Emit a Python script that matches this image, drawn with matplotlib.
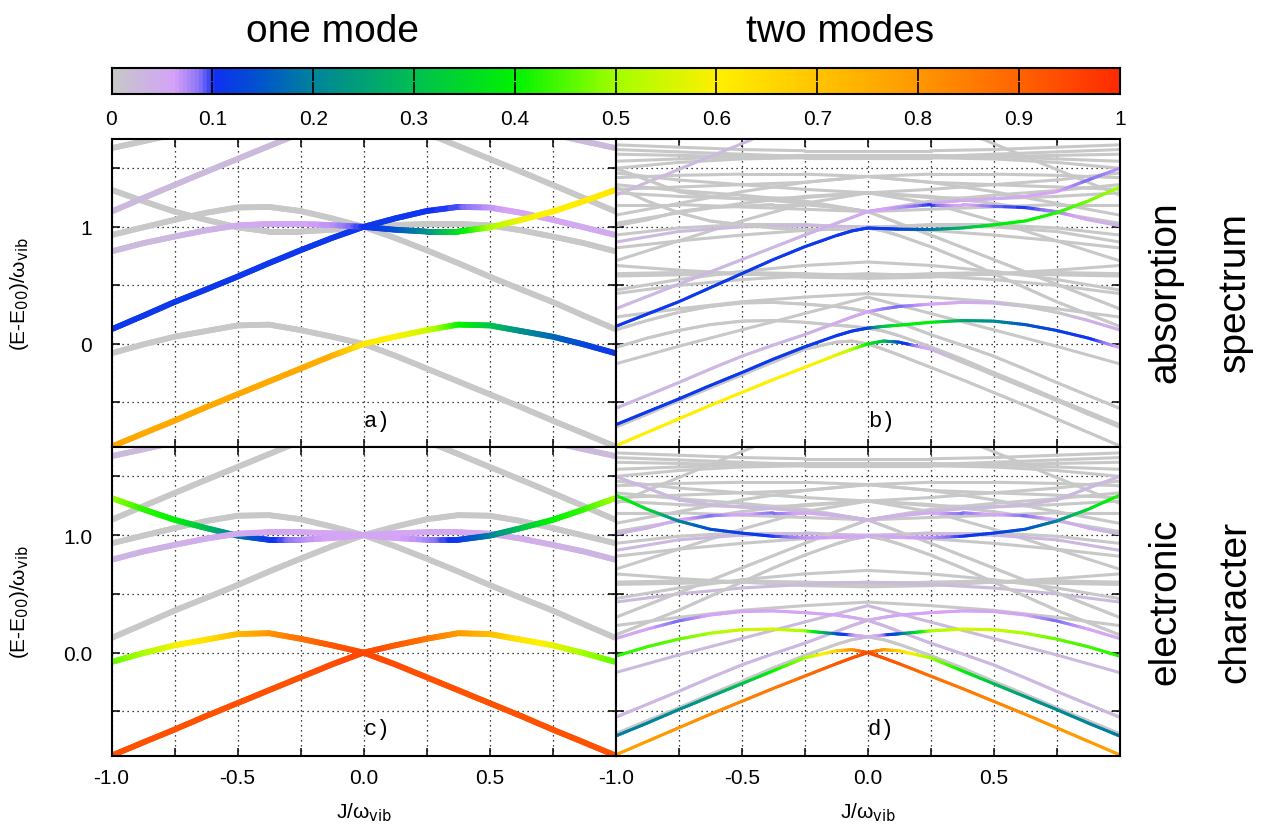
import numpy as np
import matplotlib
matplotlib.use("Agg")
import matplotlib.pyplot as plt
from matplotlib.collections import LineCollection
from matplotlib.colors import LinearSegmentedColormap

# ---------------- colour scale ----------------
CB_NODES = [0.0, 0.03, 0.06, 0.085, 0.1, 0.15, 0.2, 0.3, 0.4, 0.5, 0.6, 0.7, 0.8, 0.9, 1.0]
CB_COLORS = ['#c8c8c8', '#ccb6e2', '#d6a2f8', '#8a74f6', '#1030f4', '#0058c8', '#00859a',
             '#00c050', '#00f400', '#a4ff00', '#fff000', '#ffc400', '#ff9800', '#ff6400', '#ff2a00']
CB_TICKS = [0, 0.1, 0.2, 0.3, 0.4, 0.5, 0.6, 0.7, 0.8, 0.9, 1.0]
CB_LABELS = ['0', '0.1', '0.2', '0.3', '0.4', '0.5', '0.6', '0.7', '0.8', '0.9', '1']

# ---------------- one mode (panels a, c) ----------------
J1 = [-1.0, -0.875, -0.75, -0.625, -0.5, -0.375, -0.25, -0.125, 0.0,
      0.125, 0.25, 0.375, 0.5, 0.625, 0.75, 0.875, 1.0]
E1_A = [-0.877, -0.765, -0.655, -0.54, -0.43, -0.32, -0.21, -0.10, 0.0,
        0.062, 0.118, 0.165, 0.158, 0.11, 0.062, -0.005, -0.08]
E1_Am = [-0.08, -0.005, 0.062, 0.11, 0.158, 0.165, 0.118, 0.062, 0.0,
         -0.10, -0.21, -0.32, -0.43, -0.54, -0.655, -0.765, -0.877]
E1_B = [0.125, 0.24, 0.358, 0.465, 0.575, 0.69, 0.80, 0.905, 1.0,
        1.072, 1.135, 1.17, 1.165, 1.12, 1.06, 0.995, 0.93]
E1_Bm = [0.93, 0.995, 1.06, 1.12, 1.165, 1.17, 1.135, 1.072, 1.0,
         0.905, 0.80, 0.69, 0.575, 0.465, 0.358, 0.24, 0.125]
E1_C = [0.79, 0.86, 0.917, 0.97, 1.012, 1.025, 1.025, 1.015, 1.0,
        0.975, 0.96, 0.96, 0.995, 1.06, 1.13, 1.22, 1.316]
E1_Cm = [1.316, 1.22, 1.13, 1.06, 0.995, 0.96, 0.96, 0.975, 1.0,
         1.015, 1.025, 1.025, 1.012, 0.97, 0.917, 0.86, 0.79]
E1_D = [1.13, 1.245, 1.358, 1.47, 1.58, 1.69, 1.80, 1.91, 2.0,
        np.nan, np.nan, np.nan, np.nan, np.nan, np.nan, np.nan, np.nan]
E1_Dm = [np.nan, np.nan, np.nan, np.nan, np.nan, np.nan, np.nan, np.nan, 2.0,
         1.91, 1.80, 1.69, 1.58, 1.47, 1.358, 1.245, 1.13]
E1_E = [1.672, 1.73, 1.79, 1.85, np.nan, np.nan, np.nan, np.nan, np.nan,
        np.nan, np.nan, np.nan, np.nan, np.nan, np.nan, np.nan, np.nan]
E1_Em = [np.nan, np.nan, np.nan, np.nan, np.nan, np.nan, np.nan, np.nan, np.nan,
         np.nan, np.nan, np.nan, np.nan, 1.85, 1.79, 1.73, 1.672]

# colour values, panel a (absorption)
A_A = [0.76, 0.76, 0.76, 0.76, 0.76, 0.76, 0.76, 0.75, 0.62,
       0.60, 0.55, 0.41, 0.32, 0.22, 0.17, 0.13, 0.11]
A_Am = [0.0] * 17
A_B = [0.11, 0.11, 0.11, 0.11, 0.11, 0.11, 0.11, 0.11, 0.11,
       0.11, 0.105, 0.095, 0.07, 0.055, 0.052, 0.05, 0.05]
A_Bm = [0.0] * 17
A_C = [0.025, 0.025, 0.03, 0.035, 0.045, 0.055, 0.058, 0.07, 0.10,
       0.14, 0.21, 0.36, 0.50, 0.58, 0.60, 0.61, 0.62]
A_Cm = [0.0] * 17
A_D = [0.025] * 17
A_Dm = [0.0] * 17
A_E = [0.0] * 17
A_Em = [0.025] * 17

# colour values, panel c (electronic character)
C_A = [0.93, 0.93, 0.93, 0.93, 0.93, 0.93, 0.93, 0.94, 0.95,
       0.92, 0.87, 0.80, 0.72, 0.63, 0.58, 0.50, 0.46]
C_Am = [0.46, 0.50, 0.58, 0.63, 0.72, 0.80, 0.87, 0.92, 0.95,
        0.94, 0.93, 0.93, 0.93, 0.93, 0.93, 0.93, 0.93]
C_B = [0.0] * 17
C_Bm = [0.0] * 17
C_C = [0.035, 0.035, 0.04, 0.045, 0.05, 0.052, 0.054, 0.055, 0.055,
       0.058, 0.075, 0.11, 0.19, 0.30, 0.40, 0.43, 0.50]
C_Cm = [0.50, 0.43, 0.40, 0.30, 0.19, 0.11, 0.075, 0.058, 0.055,
        0.055, 0.054, 0.052, 0.05, 0.045, 0.04, 0.035, 0.035]
C_D = [0.0] * 17
C_Dm = [0.0] * 17
C_E = [0.025] * 17
C_Em = [0.025] * 17

# ---------------- two modes (panels b, d) ----------------
# background levels given as left halves (J <= 0); the level set is symmetric in J.
# colour of each half: [b left, b right, d left, d right]
JH = [-1.0, -0.75, -0.5, -0.25, 0.0]
H2 = [
    [-0.17, -0.02, 0.12, 0.26, 0.40],
    [0.23, 0.30, 0.36, 0.40, 0.43],
    [0.43, 0.50, 0.55, 0.58, 0.60],
    [0.46, 0.55, 0.62, 0.67, 0.70],
    [0.58, 0.59, 0.60, 0.60, 0.60],
    [0.60, 0.61, 0.61, 0.60, 0.58],
    [0.67, 0.63, 0.60, 0.57, 0.56],
    [0.71, 0.88, 1.05, 1.20, 1.29],
    [0.82, 0.88, 0.93, 0.97, 0.99],
    [0.87, 0.96, 1.0, 1.01, 1.0],
    [0.93, 0.99, 1.02, 1.02, 0.99],
    [1.03, 1.12, 1.20, 1.26, 1.29],
    [1.10, 1.20, 1.30, 1.38, 1.43],
    [1.19, 1.19, 1.17, 1.15, 1.13],
    [1.27, 1.49, 1.71, 1.93, 2.10],
    [1.29, 1.26, 1.24, 1.25, 1.29],
    [1.32, 1.34, 1.36, 1.38, 1.43],
    [1.36, 1.31, 1.27, 1.22, 1.13],
    [1.42, 1.44, 1.45, 1.45, 1.43],
    [1.46, 1.40, 1.36, 1.32, 1.29],
    [1.50, 1.55, 1.58, 1.59, 1.59],
    [1.56, 1.58, 1.60, 1.61, 1.61],
    [1.62, 1.61, 1.60, 1.59, 1.59],
    [1.66, 1.64, 1.62, 1.60, 1.59],
    [1.70, 1.68, 1.66, 1.65, 1.65],
]
H2_COL = [
    [0.0, 0.0, 0.025, 0.025],
    [0.0, 0.0, 0.0, 0.0],
    [0.0, 0.0, 0.025, 0.025],
    [0.0, 0.0, 0.0, 0.0],
    [0.0, 0.0, 0.0, 0.0],
    [0.0, 0.0, 0.0, 0.0],
    [0.0, 0.0, 0.0, 0.0],
    [0.0, 0.0, 0.0, 0.0],
    [0.0, 0.0, 0.0, 0.0],
    [0.03, 0.0, 0.03, 0.03],
    [0.0, 0.0, 0.0, 0.0],
    [0.0, 0.0, 0.0, 0.0],
    [0.0, 0.0, 0.0, 0.0],
    [0.0, 0.0, 0.0, 0.0],
    [0.03, 0.0, 0.0, 0.0],
    [0.0, 0.0, 0.0, 0.0],
    [0.0, 0.0, 0.0, 0.0],
    [0.0, 0.0, 0.0, 0.0],
    [0.0, 0.0, 0.0, 0.0],
    [0.0, 0.0, 0.0, 0.0],
    [0.0, 0.0, 0.0, 0.0],
    [0.0, 0.0, 0.0, 0.0],
    [0.0, 0.0, 0.0, 0.0],
    [0.0, 0.0, 0.0, 0.0],
    [0.0, 0.0, 0.0, 0.0],
]

J2 = [-1.0, -0.875, -0.75, -0.625, -0.5, -0.375, -0.25, -0.125, -0.0625, 0.0,
      0.0625, 0.125, 0.25, 0.375, 0.5, 0.625, 0.75, 0.875, 1.0]
E2_T1 = [-0.87, -0.755, -0.64, -0.525, -0.415, -0.305, -0.2, -0.095, -0.045, 0.0,
         0.025, 0.015, -0.045, -0.155, -0.265, -0.375, -0.485, -0.6, -0.71]
E2_T2 = [-0.71, -0.6, -0.485, -0.375, -0.265, -0.155, -0.045, 0.015, 0.025, 0.0,
         -0.045, -0.095, -0.2, -0.305, -0.415, -0.525, -0.64, -0.755, -0.87]
E2_T3 = [-0.69, -0.58, -0.47, -0.355, -0.245, -0.13, -0.025, 0.07, 0.11, 0.135,
         0.15, 0.16, 0.185, 0.2, 0.195, 0.165, 0.115, 0.05, -0.03]
E2_T3m = [-0.03, 0.05, 0.115, 0.165, 0.195, 0.2, 0.185, 0.16, 0.15, 0.135,
          0.11, 0.07, -0.025, -0.13, -0.245, -0.355, -0.47, -0.58, -0.69]
E2_T4 = [-0.55, -0.44, -0.33, -0.215, -0.105, -0.01, 0.08, 0.18, 0.23, 0.275,
         0.30, 0.32, 0.34, 0.355, 0.35, 0.32, 0.27, 0.2, 0.12]
E2_T4m = [0.12, 0.2, 0.27, 0.32, 0.35, 0.355, 0.34, 0.32, 0.30, 0.275,
          0.23, 0.18, 0.08, -0.01, -0.105, -0.215, -0.33, -0.44, -0.55]
E2_U1 = [0.15, 0.255, 0.36, 0.48, 0.60, 0.72, 0.83, 0.925, 0.965, 0.99,
         0.985, 0.98, 0.977, 0.99, 1.017, 1.05, 1.12, 1.22, 1.34]
E2_U1m = [1.34, 1.22, 1.12, 1.05, 1.017, 0.99, 0.977, 0.98, 0.985, 0.99,
          0.965, 0.925, 0.83, 0.72, 0.60, 0.48, 0.36, 0.255, 0.15]
E2_U2 = [0.30, 0.405, 0.51, 0.615, 0.72, 0.825, 0.93, 1.03, 1.08, 1.13,
         1.15, 1.165, 1.19, 1.19, 1.175, 1.165, 1.13, 1.06, 1.01]
E2_U2m = [1.01, 1.06, 1.13, 1.165, 1.175, 1.19, 1.19, 1.165, 1.15, 1.13,
          1.08, 1.03, 0.93, 0.825, 0.72, 0.615, 0.51, 0.405, 0.30]
E2_U4 = [1.50, 1.40, 1.30, 1.26, 1.24, 1.225, 1.20, 1.17, 1.15, 1.13,
         1.15, 1.17, 1.20, 1.225, 1.24, 1.26, 1.30, 1.40, 1.50]

# colour values, panel b
B_T1 = [0.6, 0.6, 0.6, 0.6, 0.6, 0.6, 0.6, 0.58, 0.52, 0.4,
        0.3, 0.13, 0.04, 0.0, 0.0, 0.0, 0.0, 0.0, 0.0]
B_T2 = [0.0] * 19
B_T3 = [0.11, 0.11, 0.11, 0.11, 0.11, 0.11, 0.11, 0.11, 0.11, 0.12,
        0.3, 0.38, 0.4, 0.26, 0.21, 0.15, 0.12, 0.11, 0.06]
B_T3m = [0.0] * 19
B_T4 = [0.03, 0.03, 0.03, 0.03, 0.03, 0.03, 0.035, 0.04, 0.05, 0.06,
        0.08, 0.09, 0.06, 0.05, 0.04, 0.0, 0.0, 0.04, 0.05]
B_T4m = [0.0] * 19
B_U1 = [0.11, 0.11, 0.11, 0.11, 0.11, 0.11, 0.11, 0.11, 0.11, 0.11,
        0.11, 0.12, 0.18, 0.28, 0.38, 0.40, 0.42, 0.47, 0.50]
B_U1m = [0.0] * 19
B_U2 = [0.03, 0.03, 0.03, 0.03, 0.03, 0.03, 0.035, 0.04, 0.045, 0.05,
        0.06, 0.07, 0.1, 0.05, 0.09, 0.1, 0.08, 0.05, 0.04]
B_U2m = [0.0] * 19
B_U4 = [0.0, 0.0, 0.0, 0.0, 0.0, 0.0, 0.0, 0.0, 0.0, 0.03,
        0.04, 0.045, 0.05, 0.05, 0.05, 0.05, 0.06, 0.09, 0.07]

# colour values, panel d
D_T1 = [0.78, 0.79, 0.80, 0.82, 0.84, 0.86, 0.88, 0.92, 0.93, 0.95,
        0.80, 0.66, 0.50, 0.40, 0.30, 0.24, 0.21, 0.20, 0.19]
D_T2 = [0.19, 0.20, 0.21, 0.24, 0.30, 0.40, 0.50, 0.66, 0.80, 0.95,
        0.93, 0.92, 0.88, 0.86, 0.84, 0.82, 0.80, 0.79, 0.78]
D_T3 = [0.0, 0.0, 0.0, 0.0, 0.0, 0.0, 0.0, 0.0, 0.0, 0.03,
        0.08, 0.15, 0.5, 0.55, 0.54, 0.5, 0.46, 0.44, 0.42]
D_T3m = [0.42, 0.44, 0.46, 0.5, 0.54, 0.55, 0.5, 0.15, 0.08, 0.03,
         0.0, 0.0, 0.0, 0.0, 0.0, 0.0, 0.0, 0.0, 0.0]
D_T4 = [0.03, 0.03, 0.03, 0.03, 0.03, 0.03, 0.03, 0.03, 0.03, 0.04,
        0.05, 0.055, 0.06, 0.06, 0.055, 0.06, 0.09, 0.06, 0.05]
D_T4m = [0.05, 0.06, 0.09, 0.06, 0.055, 0.06, 0.06, 0.055, 0.05, 0.04,
         0.03, 0.03, 0.03, 0.03, 0.03, 0.03, 0.03, 0.03, 0.03]
D_U1 = [0.0, 0.0, 0.0, 0.0, 0.0, 0.0, 0.0, 0.0, 0.0, 0.05,
        0.055, 0.06, 0.07, 0.10, 0.12, 0.14, 0.20, 0.35, 0.42]
D_U1m = [0.42, 0.35, 0.20, 0.14, 0.12, 0.10, 0.07, 0.06, 0.055, 0.05,
         0.0, 0.0, 0.0, 0.0, 0.0, 0.0, 0.0, 0.0, 0.0]
D_U2 = [0.0, 0.0, 0.0, 0.0, 0.0, 0.0, 0.0, 0.0, 0.0, 0.03,
        0.035, 0.04, 0.05, 0.09, 0.05, 0.09, 0.05, 0.04, 0.03]
D_U2m = [0.03, 0.04, 0.05, 0.09, 0.05, 0.09, 0.05, 0.04, 0.035, 0.03,
         0.0, 0.0, 0.0, 0.0, 0.0, 0.0, 0.0, 0.0, 0.0]
D_U4 = [0.03] * 19

# ---------------- figure ----------------
plt.rcParams['font.family'] = ['Liberation Sans', 'DejaVu Sans']
cmap = LinearSegmentedColormap.from_list('spec', list(zip(CB_NODES, CB_COLORS)))

W, H = 1261, 829
fig = plt.figure(figsize=(W / 100, H / 100), dpi=100)


def fx(px):
    return px / W


def fy(py):
    return 1 - py / H


XL0, XL1, XR1 = 111.5, 615.7, 1119.7
YT0, YT1, YB1 = 140, 448, 757
axes = {
    'a': fig.add_axes([fx(XL0), fy(YT1), fx(XL1 - XL0), (YT1 - YT0) / H]),
    'b': fig.add_axes([fx(XL1), fy(YT1), fx(XR1 - XL1), (YT1 - YT0) / H]),
    'c': fig.add_axes([fx(XL0), fy(YB1), fx(XL1 - XL0), (YB1 - YT1) / H]),
    'd': fig.add_axes([fx(XL1), fy(YB1), fx(XR1 - XL1), (YB1 - YT1) / H]),
}


def draw(ax, J, E, Cv, lw, nsub=12, z=2):
    J = np.asarray(J, float)
    E = np.asarray(E, float)
    Cv = np.asarray(Cv, float)
    segs, cols = [], []
    for i in range(len(J) - 1):
        if np.isnan(E[i]) or np.isnan(E[i + 1]):
            continue
        t = np.linspace(0, 1, nsub + 1)
        xs = J[i] + (J[i + 1] - J[i]) * t
        ys = E[i] + (E[i + 1] - E[i]) * t
        cs = Cv[i] + (Cv[i + 1] - Cv[i]) * t
        for k in range(nsub):
            segs.append([(xs[k], ys[k]), (xs[k + 1], ys[k + 1])])
            cols.append(cmap(0.5 * (cs[k] + cs[k + 1])))
    lc = LineCollection(segs, colors=cols, linewidths=lw, capstyle='round', zorder=z)
    ax.add_collection(lc)


one_E = [E1_Am, E1_Bm, E1_Cm, E1_Dm, E1_E, E1_A, E1_B, E1_C, E1_D, E1_Em]
a_C = [A_Am, A_Bm, A_Cm, A_Dm, A_E, A_A, A_B, A_C, A_D, A_Em]
c_C = [C_Am, C_Bm, C_Cm, C_Dm, C_E, C_A, C_B, C_C, C_D, C_Em]

LW1 = 4.2
LW2 = 2.2
for E, Cv in sorted(zip(one_E, a_C), key=lambda p: max(p[1])):
    draw(axes['a'], J1, E, Cv, LW1)
for E, Cv in sorted(zip(one_E, c_C), key=lambda p: max(p[1])):
    draw(axes['c'], J1, E, Cv, LW1)

JH_R = [-j for j in JH]
for h, cc in zip(H2, H2_COL):
    z_b = 1.6 if max(cc[0], cc[1]) > 0 else 1.5
    z_d = 1.6 if max(cc[2], cc[3]) > 0 else 1.5
    draw(axes['b'], JH, h, [cc[0]] * 5, LW2, nsub=1, z=z_b)
    draw(axes['b'], JH_R, h, [cc[1]] * 5, LW2, nsub=1, z=z_b)
    draw(axes['d'], JH, h, [cc[2]] * 5, LW2, nsub=1, z=z_d)
    draw(axes['d'], JH_R, h, [cc[3]] * 5, LW2, nsub=1, z=z_d)

two_E = [E2_T1, E2_T2, E2_T3, E2_T3m, E2_T4, E2_T4m, E2_U1, E2_U1m, E2_U2, E2_U2m, E2_U4]
b_C = [B_T1, B_T2, B_T3, B_T3m, B_T4, B_T4m, B_U1, B_U1m, B_U2, B_U2m, B_U4]
d_C = [D_T1, D_T2, D_T3, D_T3m, D_T4, D_T4m, D_U1, D_U1m, D_U2, D_U2m, D_U4]
for E, Cv in sorted(zip(two_E, b_C), key=lambda p: max(p[1])):
    draw(axes['b'], J2, E, Cv, LW2)
for E, Cv in sorted(zip(two_E, d_C), key=lambda p: max(p[1])):
    draw(axes['d'], J2, E, Cv, LW2)

XT_MAJ = [-1.0, -0.5, 0.0, 0.5]
XT_MIN = [-0.75, -0.25, 0.25, 0.75, 1.0]
YT_MAJ = [0.0, 1.0]
YT_MIN = [-0.5, 0.5, 1.5]
for key, ax in axes.items():
    ax.set_xlim(-1, 1)
    ax.set_ylim(-0.88, 1.75)
    ax.set_xticks(XT_MAJ)
    ax.set_xticks(XT_MIN, minor=True)
    ax.set_yticks(YT_MAJ)
    ax.set_yticks(YT_MIN, minor=True)
    ax.tick_params(which='both', direction='in', length=6, width=1.1,
                   top=True, right=True, labelsize=15, colors='black')
    ax.tick_params(axis='x', pad=9)
    ax.tick_params(axis='y', pad=14)
    ax.grid(True, which='both', linestyle=(0, (1, 3)), color='black', linewidth=0.9, zorder=0)
    ax.set_axisbelow(True)
    for s in ax.spines.values():
        s.set_linewidth(1.5)
    if key in ('a', 'b'):
        ax.set_xticklabels([])
    else:
        ax.set_xticklabels(['-1.0', '-0.5', '0.0', '0.5'])
        ax.set_xlabel('J/ω$_{\\rm vib}$', fontsize=15, labelpad=9)
    if key in ('b', 'd'):
        ax.set_yticklabels([])
    elif key == 'a':
        ax.set_yticklabels(['0', '1'])
    else:
        ax.set_yticklabels(['0.0', '1.0'])
    if key in ('a', 'c'):
        ax.set_ylabel('(E-E$_{00}$)/ω$_{\\rm vib}$', fontsize=15)
    ax.text(0.0, -0.65, key + ')', family=['Liberation Mono', 'DejaVu Sans Mono'],
            fontsize=16, ha='left', va='center', zorder=5)

axes['a'].yaxis.set_label_coords(-0.16, 0.5)
axes['c'].yaxis.set_label_coords(-0.16, 0.5)

# colour bar
cax = fig.add_axes([fx(XL0), fy(95), fx(XR1 - XL0), 26.5 / H])
grad = np.linspace(0, 1, 1024)[None, :]
cax.imshow(grad, cmap=cmap, aspect='auto', extent=[0, 1, 0, 1], vmin=0, vmax=1)
cax.set_xlim(0, 1)
cax.set_ylim(0, 1)
cax.set_yticks([])
cax.set_xticks(CB_TICKS)
cax.set_xticklabels(CB_LABELS)
cax.tick_params(axis='x', direction='in', length=9, width=1.2, top=True, bottom=True,
                labelsize=15, pad=11)
for s in cax.spines.values():
    s.set_linewidth(1.5)

# titles and side labels
fig.text(fx(333), fy(32), 'one mode', fontsize=28, ha='center', va='center')
fig.text(fx(840), fy(32), 'two modes', fontsize=28, ha='center', va='center')
fig.text(fx(1165), fy(292), 'absorption', fontsize=28, rotation=90, ha='center', va='center')
fig.text(fx(1235), fy(292), 'spectrum', fontsize=28, rotation=90, ha='center', va='center')
fig.text(fx(1165), fy(602), 'electronic', fontsize=28, rotation=90, ha='center', va='center')
fig.text(fx(1235), fy(602), 'character', fontsize=28, rotation=90, ha='center', va='center')

fig.savefig('out.png', dpi=100)
